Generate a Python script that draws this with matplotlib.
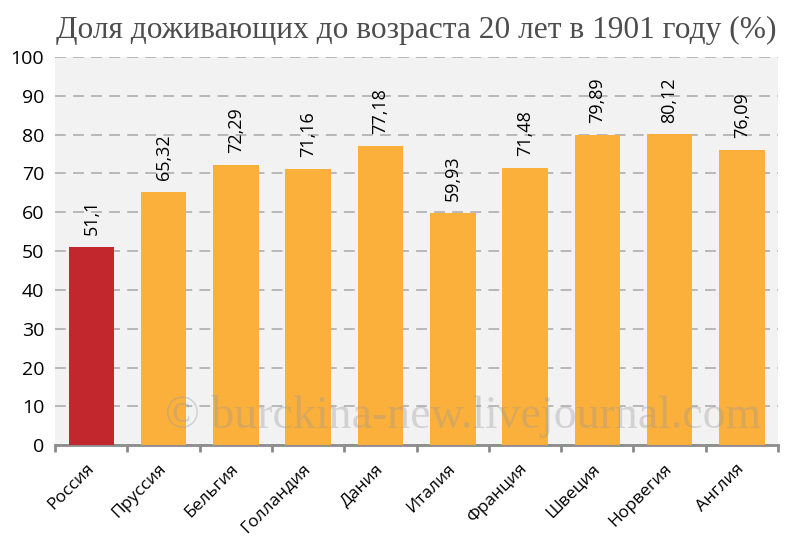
import matplotlib.pyplot as plt

countries = ['Россия', 'Пруссия', 'Бельгия', 'Голландия', 'Дания',
             'Италия', 'Франция', 'Швеция', 'Норвегия', 'Англия']
values = [51.1, 65.32, 72.29, 71.16, 77.18, 59.93, 71.48, 79.89, 80.12, 76.09]
labels = ['51,1', '65,32', '72,29', '71,16', '77,18', '59,93', '71,48', '79,89', '80,12', '76,09']
colors = ['#c1272d'] + ['#fbb03b'] * 9

plt.rcParams['font.family'] = ['Open Sans', 'DejaVu Sans']

fig = plt.figure(figsize=(8, 5.43), dpi=100)
ax = fig.add_axes([0.069, 0.18, 0.9035, 0.715])
ax.set_facecolor('#f2f2f2')

x = range(len(countries))
ax.bar(x, values, width=0.63, color=colors, zorder=3)
for i, v in enumerate(values):
    ax.text(i, v + 3, labels[i], rotation=90, ha='center', va='bottom', fontsize=13, zorder=4)

ax.set_xlim(-0.5, len(countries) - 0.5)
ax.set_ylim(0, 100)
ax.set_yticks(range(0, 101, 10))
ax.tick_params(axis='y', length=0, labelsize=14, pad=8)
ax.yaxis.grid(True, color='#b3b3b3', linestyle=(0, (6, 4)), linewidth=1.3, zorder=1)

ax.set_xticks([i - 0.5 for i in range(len(countries) + 1)], minor=False)
ax.set_xticklabels([])
ax.set_xticks([i - 0.08 for i in x], minor=True)
ax.set_xticklabels(countries, minor=True, rotation=45, ha='right', rotation_mode='anchor')
ax.tick_params(axis='x', which='major', length=5, width=2, color='#8c8c8c')
ax.tick_params(axis='x', which='minor', length=0, pad=11, labelsize=12.5)

for s in ['top', 'right', 'left']:
    ax.spines[s].set_visible(False)
ax.spines['bottom'].set_color('#8c8c8c')
ax.spines['bottom'].set_linewidth(2)

ax.text(0.565, 0.075, '© burckina-new.livejournal.com', transform=ax.transAxes,
        ha='center', va='center', fontsize=33, family='Liberation Serif',
        color='#999999', alpha=0.35, zorder=5)

fig.text(0.07, 0.943, 'Доля доживающих до возраста 20 лет в 1901 году (%)',
         family='Liberation Serif', fontsize=22.6, color='#4d4d4d', va='center', ha='left')

fig.savefig('out.png', dpi=100)
